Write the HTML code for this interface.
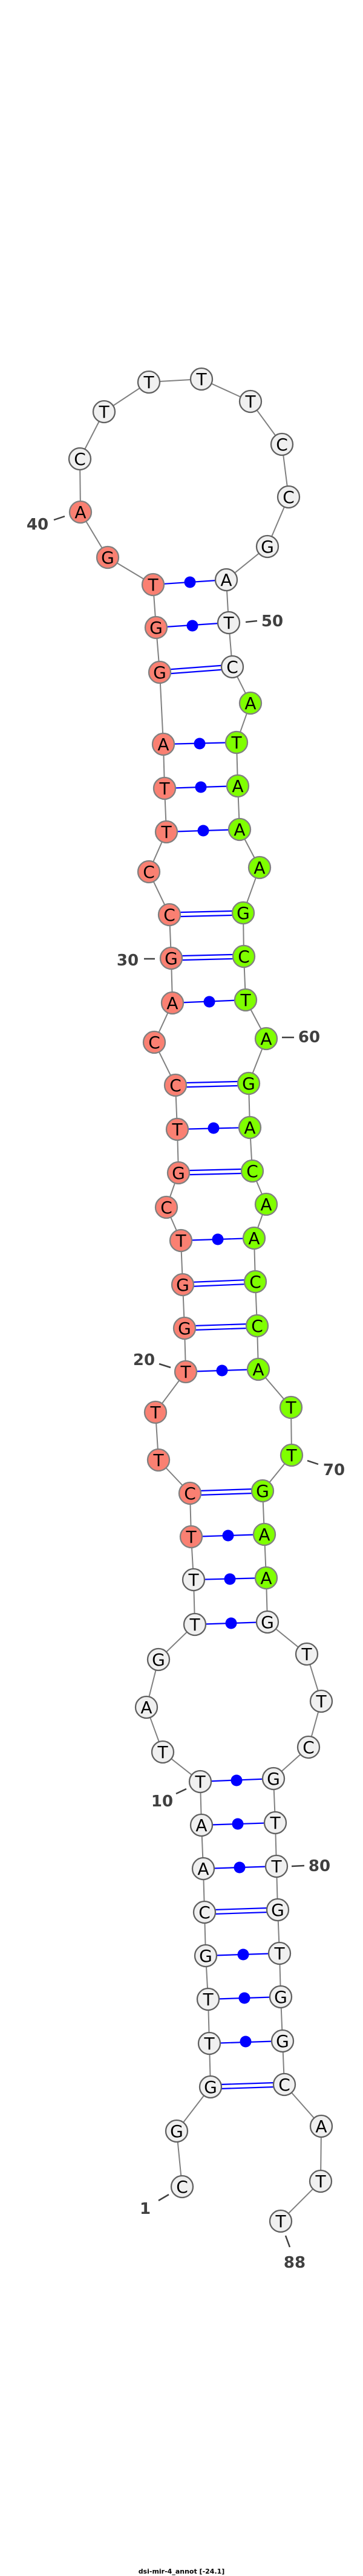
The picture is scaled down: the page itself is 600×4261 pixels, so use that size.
<!DOCTYPE html>
<html><head><meta charset="utf-8"><style>
html,body{margin:0;padding:0;background:#fff;}
svg{display:block;}
.bb{stroke:#808080;stroke-width:2;fill:none}
.pr{stroke:#0000ff;stroke-width:2.2;fill:none}
.dt{fill:#0000ff}
.s{fill:#fa8072;stroke:#808080;stroke-width:2.3}
.g{fill:#7fff00;stroke:#808080;stroke-width:2.3}
.w{fill:#f0f0f0;stroke:#606060;stroke-width:2.3}
.n{font-family:"DejaVu Sans","Liberation Sans",sans-serif;font-size:28px;text-anchor:middle;fill:#000}
.lb{font-family:"DejaVu Sans","Liberation Sans",sans-serif;font-size:26px;font-weight:bold;text-anchor:middle;fill:#404040}
.tk{stroke:#404040;stroke-width:2.5}
</style></head><body>
<svg width="600" height="4261" viewBox="0 0 600 4261" xmlns="http://www.w3.org/2000/svg">
<polyline class="bb" points="301,3617 292,3525 348,3452 346,3380 344,3307 340,3235 338,3163 336,3091 333,3019 331,2947 269,2898 242,2824 262,2745 322,2687 320,2613 316,2542 314,2470 262,2415 257,2336 307,2269 305,2197 302,2125 299,2052 275,1997 295,1940 293,1868 290,1795 255,1724 285,1659 283,1585 280,1513 246,1442 275,1376 272,1304 270,1231 264,1112 258,1038 253,967 178,922 133,847 132,759 172,681 246,632 333,627 414,664 466,735 477,822 442,904 374,959 378,1030 384,1103 414,1163 391,1228 393,1300 396,1372 429,1435 402,1510 403,1582 406,1654 440,1718 411,1792 413,1865 417,1937 440,1992 420,2048 422,2120 425,2193 427,2265 481,2328 482,2407 434,2466 437,2538 440,2610 442,2683 507,2736 531,2814 510,2890 452,2942 455,3015 457,3087 459,3159 462,3231 464,3303 467,3376 470,3448 531,3517 530,3608 464,3674"/>
<g class="pr">
<line x1="331" y1="2947" x2="452" y2="2942"/><line x1="333" y1="3019" x2="455" y2="3015"/><line x1="336" y1="3091" x2="457" y2="3087"/>
<line x1="340" y1="3235" x2="462" y2="3231"/><line x1="344" y1="3307" x2="464" y2="3303"/><line x1="346" y1="3380" x2="467" y2="3376"/>
<line x1="322" y1="2687" x2="442" y2="2683"/><line x1="320" y1="2613" x2="440" y2="2610"/><line x1="316" y1="2542" x2="437" y2="2538"/>
<line x1="307" y1="2269" x2="427" y2="2265"/><line x1="299" y1="2052" x2="420" y2="2048"/><line x1="293" y1="1868" x2="413" y2="1865"/>
<line x1="285" y1="1659" x2="406" y2="1654"/><line x1="275" y1="1376" x2="396" y2="1372"/><line x1="272" y1="1304" x2="393" y2="1300"/>
<line x1="270" y1="1231" x2="391" y2="1228"/><line x1="258" y1="1038" x2="378" y2="1030"/><line x1="253" y1="967" x2="374" y2="959"/>
</g>
<g class="pr">
<line x1="338" y1="3159.5" x2="459" y2="3155.5"/><line x1="338" y1="3166.5" x2="459" y2="3162.5"/>
<line x1="348" y1="3448.5" x2="470" y2="3444.5"/><line x1="348" y1="3455.5" x2="470" y2="3451.5"/>
<line x1="314" y1="2466.5" x2="434" y2="2462.5"/><line x1="314" y1="2473.5" x2="434" y2="2469.5"/>
<line x1="305" y1="2193.5" x2="425" y2="2189.5"/><line x1="305" y1="2200.5" x2="425" y2="2196.5"/>
<line x1="302" y1="2121.5" x2="422" y2="2116.5"/><line x1="302" y1="2128.5" x2="422" y2="2123.5"/>
<line x1="295" y1="1936.5" x2="417" y2="1933.5"/><line x1="295" y1="1943.5" x2="417" y2="1940.5"/>
<line x1="290" y1="1791.5" x2="411" y2="1788.5"/><line x1="290" y1="1798.5" x2="411" y2="1795.5"/>
<line x1="283" y1="1581.5" x2="403" y2="1578.5"/><line x1="283" y1="1588.5" x2="403" y2="1585.5"/>
<line x1="280" y1="1509.5" x2="402" y2="1506.5"/><line x1="280" y1="1516.5" x2="402" y2="1513.5"/>
<line x1="264" y1="1108.5" x2="384" y2="1099.5"/><line x1="264" y1="1115.5" x2="384" y2="1106.5"/>
</g>
<g class="dt">
<circle cx="391" cy="2945" r="9.5"/><circle cx="393" cy="3017" r="9.5"/><circle cx="396" cy="3089" r="9.5"/>
<circle cx="402" cy="3233" r="9.5"/><circle cx="404" cy="3305" r="9.5"/><circle cx="406" cy="3377" r="9.5"/>
<circle cx="382" cy="2685" r="9.5"/><circle cx="380" cy="2612" r="9.5"/><circle cx="377" cy="2540" r="9.5"/>
<circle cx="367" cy="2267" r="9.5"/><circle cx="360" cy="2050" r="9.5"/><circle cx="353" cy="1866" r="9.5"/>
<circle cx="346" cy="1657" r="9.5"/><circle cx="336" cy="1374" r="9.5"/><circle cx="332" cy="1302" r="9.5"/>
<circle cx="330" cy="1230" r="9.5"/><circle cx="318" cy="1035" r="9.5"/><circle cx="314" cy="963" r="9.5"/>
</g>
<g class="tk">
<line x1="262" y1="3640" x2="279" y2="3630"/><line x1="291" y1="2967" x2="308" y2="2959"/><line x1="263" y1="2256" x2="282" y2="2262"/>
<line x1="238" y1="1586" x2="256" y2="1586"/><line x1="89" y1="860" x2="107" y2="854"/><line x1="406" y1="1029" x2="425" y2="1027"/>
<line x1="466" y1="1716" x2="486" y2="1716"/><line x1="508" y1="2416" x2="526" y2="2422"/><line x1="482" y1="3087" x2="503" y2="3086"/>
<line x1="472" y1="3698" x2="479" y2="3717"/>
</g>
<g class="lb">
<text x="240" y="3662">1</text><text x="268" y="2988">10</text><text x="238" y="2258">20</text><text x="211" y="1597">30</text>
<text x="62" y="876">40</text><text x="450" y="1036">50</text><text x="511" y="1724">60</text><text x="552" y="2440">70</text>
<text x="528" y="3095">80</text><text x="487" y="3751">88</text>
</g>
<g>
<circle class="w" cx="301" cy="3617" r="18"/><circle class="w" cx="292" cy="3525" r="18"/><circle class="w" cx="348" cy="3452" r="18"/>
<circle class="w" cx="346" cy="3380" r="18"/><circle class="w" cx="344" cy="3307" r="18"/><circle class="w" cx="340" cy="3235" r="18"/>
<circle class="w" cx="338" cy="3163" r="18"/><circle class="w" cx="336" cy="3091" r="18"/><circle class="w" cx="333" cy="3019" r="18"/>
<circle class="w" cx="331" cy="2947" r="18"/><circle class="w" cx="269" cy="2898" r="18"/><circle class="w" cx="242" cy="2824" r="18"/>
<circle class="w" cx="262" cy="2745" r="18"/><circle class="w" cx="322" cy="2687" r="18"/><circle class="w" cx="320" cy="2613" r="18"/>
<circle class="s" cx="316" cy="2542" r="18"/><circle class="s" cx="314" cy="2470" r="18"/><circle class="s" cx="262" cy="2415" r="18"/>
<circle class="s" cx="257" cy="2336" r="18"/><circle class="s" cx="307" cy="2269" r="18"/><circle class="s" cx="305" cy="2197" r="18"/>
<circle class="s" cx="302" cy="2125" r="18"/><circle class="s" cx="299" cy="2052" r="18"/><circle class="s" cx="275" cy="1997" r="18"/>
<circle class="s" cx="295" cy="1940" r="18"/><circle class="s" cx="293" cy="1868" r="18"/><circle class="s" cx="290" cy="1795" r="18"/>
<circle class="s" cx="255" cy="1724" r="18"/><circle class="s" cx="285" cy="1659" r="18"/><circle class="s" cx="283" cy="1585" r="18"/>
<circle class="s" cx="280" cy="1513" r="18"/><circle class="s" cx="246" cy="1442" r="18"/><circle class="s" cx="275" cy="1376" r="18"/>
<circle class="s" cx="272" cy="1304" r="18"/><circle class="s" cx="270" cy="1231" r="18"/><circle class="s" cx="264" cy="1112" r="18"/>
<circle class="s" cx="258" cy="1038" r="18"/><circle class="s" cx="253" cy="967" r="18"/><circle class="s" cx="178" cy="922" r="18"/>
<circle class="s" cx="133" cy="847" r="18"/><circle class="w" cx="132" cy="759" r="18"/><circle class="w" cx="172" cy="681" r="18"/>
<circle class="w" cx="246" cy="632" r="18"/><circle class="w" cx="333" cy="627" r="18"/><circle class="w" cx="414" cy="664" r="18"/>
<circle class="w" cx="466" cy="735" r="18"/><circle class="w" cx="477" cy="822" r="18"/><circle class="w" cx="442" cy="904" r="18"/>
<circle class="w" cx="374" cy="959" r="18"/><circle class="w" cx="378" cy="1030" r="18"/><circle class="w" cx="384" cy="1103" r="18"/>
<circle class="g" cx="414" cy="1163" r="18"/><circle class="g" cx="391" cy="1228" r="18"/><circle class="g" cx="393" cy="1300" r="18"/>
<circle class="g" cx="396" cy="1372" r="18"/><circle class="g" cx="429" cy="1435" r="18"/><circle class="g" cx="402" cy="1510" r="18"/>
<circle class="g" cx="403" cy="1582" r="18"/><circle class="g" cx="406" cy="1654" r="18"/><circle class="g" cx="440" cy="1718" r="18"/>
<circle class="g" cx="411" cy="1792" r="18"/><circle class="g" cx="413" cy="1865" r="18"/><circle class="g" cx="417" cy="1937" r="18"/>
<circle class="g" cx="440" cy="1992" r="18"/><circle class="g" cx="420" cy="2048" r="18"/><circle class="g" cx="422" cy="2120" r="18"/>
<circle class="g" cx="425" cy="2193" r="18"/><circle class="g" cx="427" cy="2265" r="18"/><circle class="g" cx="481" cy="2328" r="18"/>
<circle class="g" cx="482" cy="2407" r="18"/><circle class="g" cx="434" cy="2466" r="18"/><circle class="g" cx="437" cy="2538" r="18"/>
<circle class="g" cx="440" cy="2610" r="18"/><circle class="w" cx="442" cy="2683" r="18"/><circle class="w" cx="507" cy="2736" r="18"/>
<circle class="w" cx="531" cy="2814" r="18"/><circle class="w" cx="510" cy="2890" r="18"/><circle class="w" cx="452" cy="2942" r="18"/>
<circle class="w" cx="455" cy="3015" r="18"/><circle class="w" cx="457" cy="3087" r="18"/><circle class="w" cx="459" cy="3159" r="18"/>
<circle class="w" cx="462" cy="3231" r="18"/><circle class="w" cx="464" cy="3303" r="18"/><circle class="w" cx="467" cy="3376" r="18"/>
<circle class="w" cx="470" cy="3448" r="18"/><circle class="w" cx="531" cy="3517" r="18"/><circle class="w" cx="530" cy="3608" r="18"/>
<circle class="w" cx="464" cy="3674" r="18"/>
</g>
<g class="n">
<text x="301" y="3627">C</text><text x="292" y="3535">G</text><text x="348" y="3462">G</text><text x="346" y="3390">T</text><text x="344" y="3317">T</text>
<text x="340" y="3245">G</text><text x="338" y="3173">C</text><text x="336" y="3101">A</text><text x="333" y="3029">A</text><text x="331" y="2957">T</text>
<text x="269" y="2908">T</text><text x="242" y="2834">A</text><text x="262" y="2755">G</text><text x="322" y="2697">T</text><text x="320" y="2623">T</text>
<text x="316" y="2552">T</text><text x="314" y="2480">C</text><text x="262" y="2425">T</text><text x="257" y="2346">T</text><text x="307" y="2279">T</text>
<text x="305" y="2207">G</text><text x="302" y="2135">G</text><text x="299" y="2062">T</text><text x="275" y="2007">C</text><text x="295" y="1950">G</text>
<text x="293" y="1878">T</text><text x="290" y="1805">C</text><text x="255" y="1734">C</text><text x="285" y="1669">A</text><text x="283" y="1595">G</text>
<text x="280" y="1523">C</text><text x="246" y="1452">C</text><text x="275" y="1386">T</text><text x="272" y="1314">T</text><text x="270" y="1241">A</text>
<text x="264" y="1122">G</text><text x="258" y="1048">G</text><text x="253" y="977">T</text><text x="178" y="932">G</text><text x="133" y="857">A</text>
<text x="132" y="769">C</text><text x="172" y="691">T</text><text x="246" y="642">T</text><text x="333" y="637">T</text><text x="414" y="674">T</text>
<text x="466" y="745">C</text><text x="477" y="832">C</text><text x="442" y="914">G</text><text x="374" y="969">A</text><text x="378" y="1040">T</text>
<text x="384" y="1113">C</text><text x="414" y="1173">A</text><text x="391" y="1238">T</text><text x="393" y="1310">A</text><text x="396" y="1382">A</text>
<text x="429" y="1445">A</text><text x="402" y="1520">G</text><text x="403" y="1592">C</text><text x="406" y="1664">T</text><text x="440" y="1728">A</text>
<text x="411" y="1802">G</text><text x="413" y="1875">A</text><text x="417" y="1947">C</text><text x="440" y="2002">A</text><text x="420" y="2058">A</text>
<text x="422" y="2130">C</text><text x="425" y="2203">C</text><text x="427" y="2275">A</text><text x="481" y="2338">T</text><text x="482" y="2417">T</text>
<text x="434" y="2476">G</text><text x="437" y="2548">A</text><text x="440" y="2620">A</text><text x="442" y="2693">G</text><text x="507" y="2746">T</text>
<text x="531" y="2824">T</text><text x="510" y="2900">C</text><text x="452" y="2952">G</text><text x="455" y="3025">T</text><text x="457" y="3097">T</text>
<text x="459" y="3169">G</text><text x="462" y="3241">T</text><text x="464" y="3313">G</text><text x="467" y="3386">G</text><text x="470" y="3458">C</text>
<text x="531" y="3527">A</text><text x="530" y="3618">T</text><text x="464" y="3684">T</text>
</g>
<text x="300" y="4257" style="font-family:'DejaVu Sans','Liberation Sans',sans-serif;font-size:11px;font-weight:bold;text-anchor:middle;fill:#000">dsi-mir-4_annot [-24.1]</text>
</svg>
</body></html>
